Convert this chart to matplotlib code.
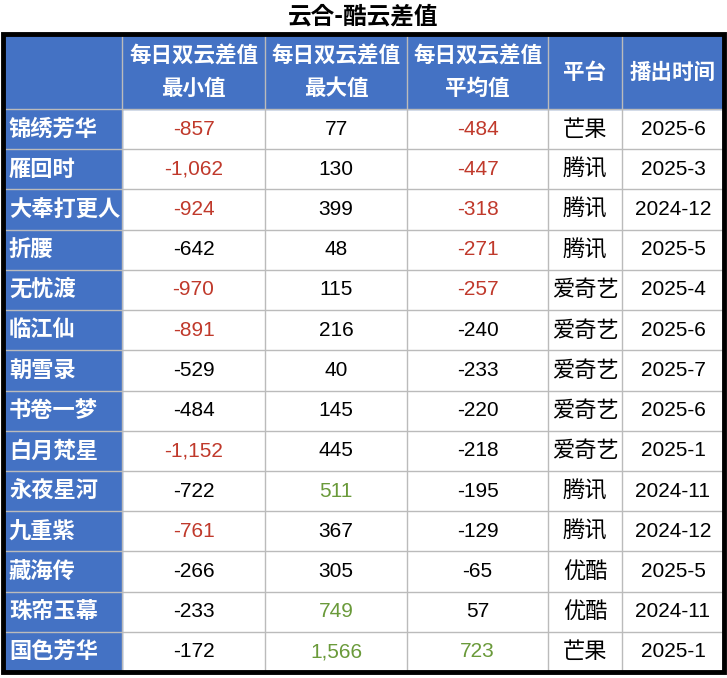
import matplotlib.pyplot as plt
from matplotlib.patches import Rectangle

cjk = ['Noto Sans CJK JP', 'Noto Sans CJK SC', 'DejaVu Sans']
plt.rcParams['font.family'] = cjk

names = ['锦绣芳华', '雁回时', '大奉打更人', '折腰', '无忧渡', '临江仙', '朝雪录',
         '书卷一梦', '白月梵星', '永夜星河', '九重紫', '藏海传', '珠帘玉幕', '国色芳华']
min_vals = [-857, -1062, -924, -642, -970, -891, -529, -484, -1152, -722, -761, -266, -233, -172]
max_vals = [77, 130, 399, 48, 115, 216, 40, 145, 445, 511, 367, 305, 749, 1566]
avg_vals = [-484, -447, -318, -271, -257, -240, -233, -220, -218, -195, -129, -65, 57, 723]
platforms = ['芒果', '腾讯', '腾讯', '腾讯', '爱奇艺', '爱奇艺', '爱奇艺', '爱奇艺', '爱奇艺',
             '腾讯', '腾讯', '优酷', '优酷', '芒果']
dates = ['2025-6', '2025-3', '2024-12', '2025-5', '2025-4', '2025-6', '2025-7', '2025-6',
         '2025-1', '2024-11', '2024-12', '2025-5', '2024-11', '2025-1']
headers = ['', '每日双云差值\n最小值', '每日双云差值\n最大值', '每日双云差值\n平均值', '平台', '播出时间']

red = '#C0392B'
green = '#6A9A3A'
blue = '#4472C4'

min_red = {-857, -1062, -924, -970, -891, -1152, -761}
max_green = {511, 749, 1566}
avg_red = {-484, -447, -318, -271, -257}
avg_green = {723}

W, H = 727, 678
fig = plt.figure(figsize=(W / 100, H / 100), dpi=100)
ax = fig.add_axes([0, 0, 1, 1])
ax.set_xlim(0, W)
ax.set_ylim(H, 0)
ax.axis('off')

cols = [3, 122, 265, 407, 548, 622, 724]
top, head_bot, bot = 34, 109, 672
rh = (bot - head_bot) / len(names)

ax.text(W / 2, 17, '云合-酷云差值', ha='center', va='center', fontsize=17, fontweight='bold')

ax.add_patch(Rectangle((cols[0], top), cols[-1] - cols[0], head_bot - top, color=blue, zorder=0))
ax.add_patch(Rectangle((cols[0], head_bot), cols[1] - cols[0], bot - head_bot, color=blue, zorder=0))

for j, h in enumerate(headers):
    ax.text((cols[j] + cols[j + 1]) / 2, (top + head_bot) / 2 + 1, h, ha='center', va='center',
            color='white', fontsize=15.5, fontweight='bold', linespacing=1.65)


def fmt(v):
    return f'{v:,}'


for i in range(len(names)):
    yc = head_bot + rh * (i + 0.5)
    cells = [names[i], fmt(min_vals[i]), fmt(max_vals[i]), fmt(avg_vals[i]), platforms[i], dates[i]]
    colors = ['white',
              red if min_vals[i] in min_red else 'black',
              green if max_vals[i] in max_green else 'black',
              red if avg_vals[i] in avg_red else (green if avg_vals[i] in avg_green else 'black'),
              'black', 'black']
    for j, c in enumerate(cells):
        num = j in (1, 2, 3, 5)
        x = 9 if j == 0 else (cols[j] + cols[j + 1]) / 2
        ax.text(x, yc, c, ha='left' if j == 0 else 'center', va='center',
                color=colors[j], fontsize=15 if num else 16,
                fontfamily=['Liberation Sans Narrow', 'Liberation Sans'] if num else cjk,
                fontweight='bold' if j == 0 else 'normal')

for k in range(len(names) + 1):
    y = head_bot + rh * k
    ax.plot([cols[0], cols[-1]], [y, y], color='#BBBBBB', lw=1, zorder=1)
for x in cols[1:-1]:
    ax.plot([x, x], [top, bot], color='#BBBBBB', lw=1, zorder=1)

ax.add_patch(Rectangle((cols[0], top), cols[-1] - cols[0], bot - top, fill=False,
                       edgecolor='black', lw=3.5, zorder=3))

fig.savefig('out.png', dpi=100)
